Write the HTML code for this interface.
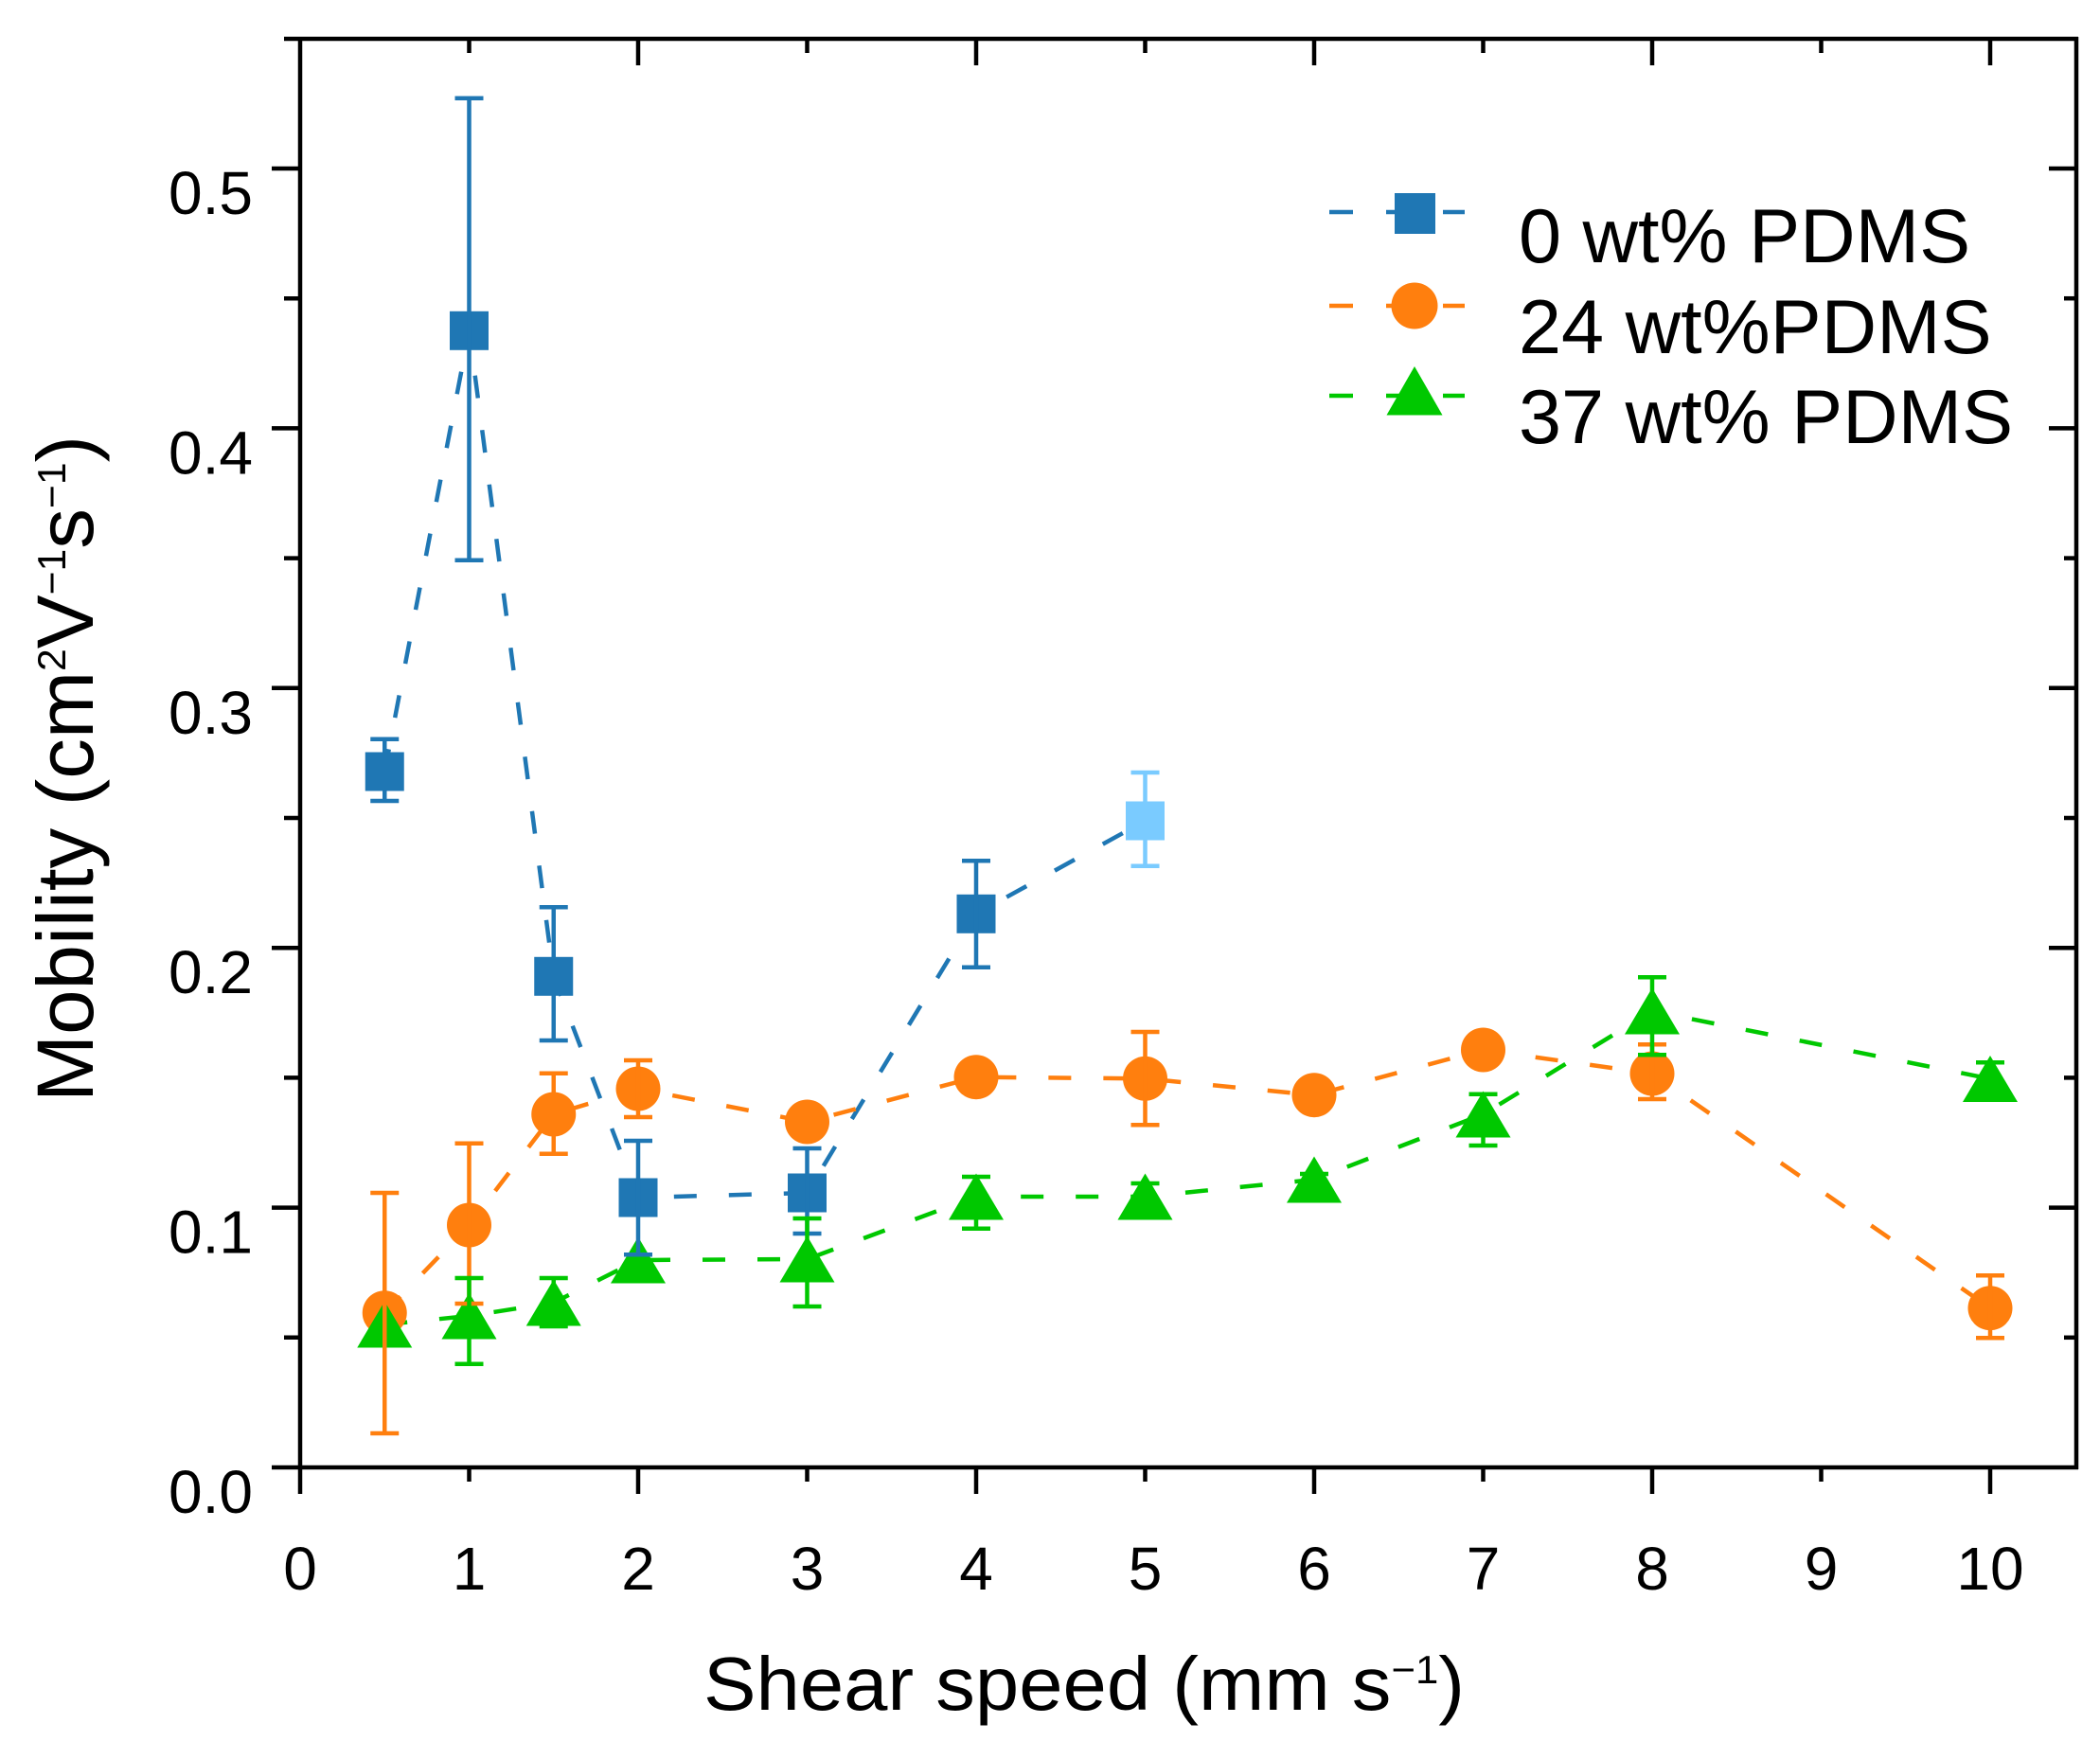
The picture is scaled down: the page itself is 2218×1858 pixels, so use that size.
<!DOCTYPE html>
<html>
<head>
<meta charset="utf-8">
<style>
  html, body { margin: 0; padding: 0; background: #ffffff; }
  svg { display: block; }
  text { font-family: "Liberation Sans", "DejaVu Sans", sans-serif; fill: #000; }
</style>
</head>
<body>
<svg width="2218" height="1858" viewBox="0 0 2218 1858" xmlns="http://www.w3.org/2000/svg">
  <rect x="0" y="0" width="2218" height="1858" fill="#ffffff"/>

  <!-- Axes frame -->
  <g stroke="#000" stroke-width="4.5" fill="none" stroke-linecap="butt">
    <line x1="287" y1="1550" x2="2195" y2="1550"/>
    <line x1="300" y1="41" x2="2195" y2="41"/>
    <line x1="317" y1="39" x2="317" y2="1578"/>
    <line x1="2193" y1="39" x2="2193" y2="1552"/>
  </g>

  <!-- Left ticks (outward) -->
  <g stroke="#000" stroke-width="4.5">
    <line x1="287" y1="1275.6" x2="317" y2="1275.6"/>
    <line x1="287" y1="1001.2" x2="317" y2="1001.2"/>
    <line x1="287" y1="726.8" x2="317" y2="726.8"/>
    <line x1="287" y1="452.4" x2="317" y2="452.4"/>
    <line x1="287" y1="178" x2="317" y2="178"/>
    <line x1="300" y1="1412.8" x2="317" y2="1412.8"/>
    <line x1="300" y1="1138.4" x2="317" y2="1138.4"/>
    <line x1="300" y1="864" x2="317" y2="864"/>
    <line x1="300" y1="589.6" x2="317" y2="589.6"/>
    <line x1="300" y1="315.2" x2="317" y2="315.2"/>
  </g>
  <!-- Right ticks (inward) -->
  <g stroke="#000" stroke-width="4.5">
    <line x1="2164" y1="1275.6" x2="2193" y2="1275.6"/>
    <line x1="2164" y1="1001.2" x2="2193" y2="1001.2"/>
    <line x1="2164" y1="726.8" x2="2193" y2="726.8"/>
    <line x1="2164" y1="452.4" x2="2193" y2="452.4"/>
    <line x1="2164" y1="178" x2="2193" y2="178"/>
    <line x1="2180" y1="1412.8" x2="2193" y2="1412.8"/>
    <line x1="2180" y1="1138.4" x2="2193" y2="1138.4"/>
    <line x1="2180" y1="864" x2="2193" y2="864"/>
    <line x1="2180" y1="589.6" x2="2193" y2="589.6"/>
    <line x1="2180" y1="315.2" x2="2193" y2="315.2"/>
  </g>
  <!-- Bottom ticks (outward) -->
  <g stroke="#000" stroke-width="4.5">
    <line x1="674" y1="1550" x2="674" y2="1578"/>
    <line x1="1031" y1="1550" x2="1031" y2="1578"/>
    <line x1="1388" y1="1550" x2="1388" y2="1578"/>
    <line x1="1745" y1="1550" x2="1745" y2="1578"/>
    <line x1="2102" y1="1550" x2="2102" y2="1578"/>
    <line x1="495.5" y1="1550" x2="495.5" y2="1565"/>
    <line x1="852.5" y1="1550" x2="852.5" y2="1565"/>
    <line x1="1209.5" y1="1550" x2="1209.5" y2="1565"/>
    <line x1="1566.5" y1="1550" x2="1566.5" y2="1565"/>
    <line x1="1923.5" y1="1550" x2="1923.5" y2="1565"/>
  </g>
  <!-- Top ticks (inward) -->
  <g stroke="#000" stroke-width="4.5">
    <line x1="674" y1="41" x2="674" y2="69"/>
    <line x1="1031" y1="41" x2="1031" y2="69"/>
    <line x1="1388" y1="41" x2="1388" y2="69"/>
    <line x1="1745" y1="41" x2="1745" y2="69"/>
    <line x1="2102" y1="41" x2="2102" y2="69"/>
    <line x1="495.5" y1="41" x2="495.5" y2="56"/>
    <line x1="852.5" y1="41" x2="852.5" y2="56"/>
    <line x1="1209.5" y1="41" x2="1209.5" y2="56"/>
    <line x1="1566.5" y1="41" x2="1566.5" y2="56"/>
    <line x1="1923.5" y1="41" x2="1923.5" y2="56"/>
  </g>

  <!-- Y tick labels -->
  <g font-size="64" text-anchor="end">
    <text x="267" y="1598">0.0</text>
    <text x="267" y="1323.6">0.1</text>
    <text x="267" y="1049.2">0.2</text>
    <text x="267" y="774.8">0.3</text>
    <text x="267" y="500.4">0.4</text>
    <text x="267" y="226">0.5</text>
  </g>
  <!-- X tick labels -->
  <g font-size="64" text-anchor="middle">
    <text x="317" y="1679">0</text>
    <text x="495.5" y="1679">1</text>
    <text x="674" y="1679">2</text>
    <text x="852.5" y="1679">3</text>
    <text x="1031" y="1679">4</text>
    <text x="1209.5" y="1679">5</text>
    <text x="1388" y="1679">6</text>
    <text x="1566.5" y="1679">7</text>
    <text x="1745" y="1679">8</text>
    <text x="1923.5" y="1679">9</text>
    <text x="2102" y="1679">10</text>
  </g>

  <!-- Axis titles -->
  <text x="743" y="1806" font-size="80" textLength="804" lengthAdjust="spacingAndGlyphs">Shear speed (mm s<tspan font-size="42" dy="-28">−1</tspan><tspan dy="28">)</tspan></text>
  <text transform="translate(98,1164) rotate(-90)" x="0" y="0" font-size="84" textLength="704" lengthAdjust="spacingAndGlyphs">Mobility (cm<tspan font-size="42" dy="-29">2</tspan><tspan dy="29">V</tspan><tspan font-size="42" dy="-29">−1</tspan><tspan dy="29">s</tspan><tspan font-size="42" dy="-29">−1</tspan><tspan dy="29">)</tspan></text>

  <!-- Dashed connecting lines -->
  <g fill="none" stroke-width="4.5" stroke-dasharray="24 34">
    <polyline stroke="#1f77b4" points="406.25,815 495.5,349.3 584.75,1031.3 674,1265 852.5,1260 1031,965.3 1209.5,867"/>
    <polyline stroke="#ff7f0e" points="406.25,1386.7 495.5,1294 584.75,1177 674,1150 852.5,1185 1031,1137.7 1209.5,1139.3 1388,1156.7 1566.5,1109 1745,1134 2102,1381.7"/>
    <polyline stroke="#00c800" points="406.25,1399 495.5,1390 584.75,1376 674,1331 852.5,1330 1031,1264 1209.5,1264 1388,1246 1566.5,1177 1745,1068 2102,1139.5"/>
  </g>

  <!-- Blue squares -->
  <g fill="#1f77b4">
    <rect x="385.75" y="794.5" width="41" height="41"/>
    <rect x="475" y="328.8" width="41" height="41"/>
    <rect x="564.25" y="1010.8" width="41" height="41"/>
    <rect x="653.5" y="1244.5" width="41" height="41"/>
    <rect x="832" y="1239.5" width="41" height="41"/>
    <rect x="1010.5" y="944.8" width="41" height="41"/>
  </g>
  <rect x="1189" y="846.5" width="41" height="41" fill="#7acbff"/>

  <!-- Orange circles -->
  <g fill="#ff7f0e">
    <circle cx="406.25" cy="1386.7" r="23.5"/>
    <circle cx="495.5" cy="1294" r="23.5"/>
    <circle cx="584.75" cy="1177" r="23.5"/>
    <circle cx="674" cy="1150" r="23.5"/>
    <circle cx="852.5" cy="1185" r="23.5"/>
    <circle cx="1031" cy="1137.7" r="23.5"/>
    <circle cx="1209.5" cy="1139.3" r="23.5"/>
    <circle cx="1388" cy="1156.7" r="23.5"/>
    <circle cx="1566.5" cy="1109" r="23.5"/>
    <circle cx="1745" cy="1134" r="23.5"/>
    <circle cx="2102" cy="1381.7" r="23.5"/>
  </g>

  <!-- Green triangles -->
  <g fill="#00c800">
    <polygon points="406.25,1374.5 377.25,1423.5 435.25,1423.5"/>
    <polygon points="495.5,1365.5 466.5,1414.5 524.5,1414.5"/>
    <polygon points="584.75,1351.5 555.75,1400.5 613.75,1400.5"/>
    <polygon points="674,1306.5 645,1355.5 703,1355.5"/>
    <polygon points="852.5,1305.5 823.5,1354.5 881.5,1354.5"/>
    <polygon points="1031,1239.5 1002,1288.5 1060,1288.5"/>
    <polygon points="1209.5,1239.5 1180.5,1288.5 1238.5,1288.5"/>
    <polygon points="1388,1221.5 1359,1270.5 1417,1270.5"/>
    <polygon points="1566.5,1152.5 1537.5,1201.5 1595.5,1201.5"/>
    <polygon points="1745,1043.5 1716,1092.5 1774,1092.5"/>
    <polygon points="2102,1115 2073,1164 2131,1164"/>
  </g>

  <!-- Error bars: blue -->
  <g stroke="#1f77b4" stroke-width="4.5" fill="none">
    <line x1="406.25" y1="780.7" x2="406.25" y2="846"/><line x1="391.25" y1="780.7" x2="421.25" y2="780.7"/><line x1="391.25" y1="846" x2="421.25" y2="846"/>
    <line x1="495.5" y1="103.7" x2="495.5" y2="591.7"/><line x1="480.5" y1="103.7" x2="510.5" y2="103.7"/><line x1="480.5" y1="591.7" x2="510.5" y2="591.7"/>
    <line x1="584.75" y1="958.3" x2="584.75" y2="1099"/><line x1="569.75" y1="958.3" x2="599.75" y2="958.3"/><line x1="569.75" y1="1099" x2="599.75" y2="1099"/>
    <line x1="674" y1="1205" x2="674" y2="1325.3"/><line x1="659" y1="1205" x2="689" y2="1205"/><line x1="659" y1="1325.3" x2="689" y2="1325.3"/>
    <line x1="852.5" y1="1213" x2="852.5" y2="1303"/><line x1="837.5" y1="1213" x2="867.5" y2="1213"/><line x1="837.5" y1="1303" x2="867.5" y2="1303"/>
    <line x1="1031" y1="909.3" x2="1031" y2="1021.7"/><line x1="1016" y1="909.3" x2="1046" y2="909.3"/><line x1="1016" y1="1021.7" x2="1046" y2="1021.7"/>
  </g>
  <g stroke="#7acbff" stroke-width="4.5" fill="none">
    <line x1="1209.5" y1="816" x2="1209.5" y2="914.7"/><line x1="1194.5" y1="816" x2="1224.5" y2="816"/><line x1="1194.5" y1="914.7" x2="1224.5" y2="914.7"/>
  </g>
  <!-- Error bars: orange -->
  <g stroke="#ff7f0e" stroke-width="4.5" fill="none">
    <line x1="406.25" y1="1260" x2="406.25" y2="1514"/><line x1="391.25" y1="1260" x2="421.25" y2="1260"/><line x1="391.25" y1="1514" x2="421.25" y2="1514"/>
    <line x1="495.5" y1="1207.7" x2="495.5" y2="1377"/><line x1="480.5" y1="1207.7" x2="510.5" y2="1207.7"/><line x1="480.5" y1="1377" x2="510.5" y2="1377"/>
    <line x1="584.75" y1="1133.7" x2="584.75" y2="1218.7"/><line x1="569.75" y1="1133.7" x2="599.75" y2="1133.7"/><line x1="569.75" y1="1218.7" x2="599.75" y2="1218.7"/>
    <line x1="674" y1="1120" x2="674" y2="1180"/><line x1="659" y1="1120" x2="689" y2="1120"/><line x1="659" y1="1180" x2="689" y2="1180"/>
    <line x1="1209.5" y1="1090" x2="1209.5" y2="1188.3"/><line x1="1194.5" y1="1090" x2="1224.5" y2="1090"/><line x1="1194.5" y1="1188.3" x2="1224.5" y2="1188.3"/>
    <line x1="1745" y1="1103.3" x2="1745" y2="1161"/><line x1="1730" y1="1103.3" x2="1760" y2="1103.3"/><line x1="1730" y1="1161" x2="1760" y2="1161"/>
    <line x1="2102" y1="1347.3" x2="2102" y2="1413.3"/><line x1="2087" y1="1347.3" x2="2117" y2="1347.3"/><line x1="2087" y1="1413.3" x2="2117" y2="1413.3"/>
  </g>
  <!-- Error bars: green -->
  <g stroke="#00c800" stroke-width="4.5" fill="none">
    <line x1="495.5" y1="1350" x2="495.5" y2="1440.7"/><line x1="480.5" y1="1350" x2="510.5" y2="1350"/><line x1="480.5" y1="1440.7" x2="510.5" y2="1440.7"/>
    <line x1="584.75" y1="1350" x2="584.75" y2="1401"/><line x1="569.75" y1="1350" x2="599.75" y2="1350"/><line x1="569.75" y1="1401" x2="599.75" y2="1401"/>
    <line x1="852.5" y1="1287" x2="852.5" y2="1380"/><line x1="837.5" y1="1287" x2="867.5" y2="1287"/><line x1="837.5" y1="1380" x2="867.5" y2="1380"/>
    <line x1="1031" y1="1243" x2="1031" y2="1297.7"/><line x1="1016" y1="1243" x2="1046" y2="1243"/><line x1="1016" y1="1297.7" x2="1046" y2="1297.7"/>
    <line x1="1209.5" y1="1250" x2="1209.5" y2="1280"/><line x1="1194.5" y1="1250" x2="1224.5" y2="1250"/><line x1="1194.5" y1="1280" x2="1224.5" y2="1280"/>
    <line x1="1388" y1="1240" x2="1388" y2="1254"/><line x1="1373" y1="1240" x2="1403" y2="1240"/><line x1="1373" y1="1254" x2="1403" y2="1254"/>
    <line x1="1566.5" y1="1155.7" x2="1566.5" y2="1210"/><line x1="1551.5" y1="1155.7" x2="1581.5" y2="1155.7"/><line x1="1551.5" y1="1210" x2="1581.5" y2="1210"/>
    <line x1="1745" y1="1032.3" x2="1745" y2="1114.3"/><line x1="1730" y1="1032.3" x2="1760" y2="1032.3"/><line x1="1730" y1="1114.3" x2="1760" y2="1114.3"/>
    <line x1="2102" y1="1122.3" x2="2102" y2="1160"/><line x1="2087" y1="1122.3" x2="2117" y2="1122.3"/><line x1="2087" y1="1160" x2="2117" y2="1160"/>
  </g>

  <!-- Legend -->
  <g fill="none" stroke-width="4.5" stroke-dasharray="25 35">
    <line x1="1404" y1="224" x2="1547" y2="224" stroke="#1f77b4"/>
    <line x1="1404" y1="323" x2="1547" y2="323" stroke="#ff7f0e"/>
    <line x1="1404" y1="418" x2="1547" y2="418" stroke="#00c800"/>
  </g>
  <rect x="1473" y="204" width="43" height="43" fill="#1f77b4"/>
  <circle cx="1494" cy="323" r="24.5" fill="#ff7f0e"/>
  <polygon points="1494,387 1464.5,438.5 1523.5,438.5" fill="#00c800"/>
  <g font-size="81">
    <text x="1604" y="277">0 wt% PDMS</text>
    <text x="1604" y="373">24 wt%PDMS</text>
    <text x="1604" y="468">37 wt% PDMS</text>
  </g>
</svg>
</body>
</html>
